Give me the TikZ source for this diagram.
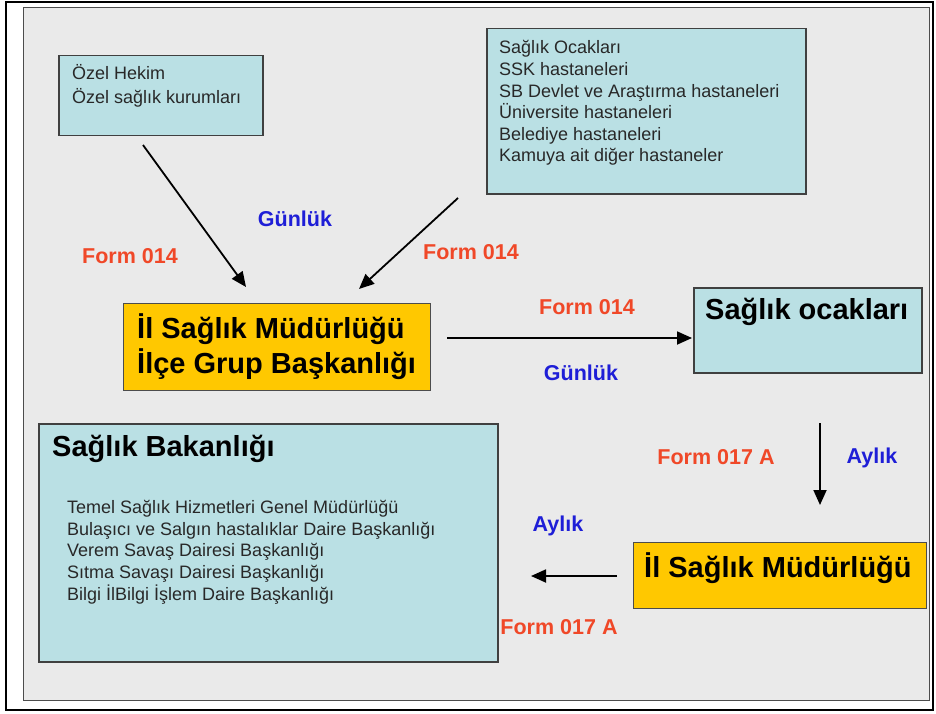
\documentclass[tikz,border=0pt]{standalone}
\usepackage{fontspec}
\setmainfont{Liberation Sans}
\usetikzlibrary{arrows.meta}
\definecolor{slidebg}{RGB}{234,234,234}
\definecolor{boxfill}{RGB}{186,224,228}
\definecolor{goldfill}{RGB}{255,200,0}
\definecolor{lblred}{RGB}{240,72,40}
\definecolor{lblblue}{RGB}{30,30,215}
\definecolor{smalltxt}{RGB}{40,40,40}
\tikzset{
  cbox/.style={draw=black!75, line width=1.5pt, fill=boxfill, anchor=north west, inner sep=0pt},
  ybox/.style={draw=black!70, line width=1.2pt, fill=goldfill, anchor=north west, inner sep=0pt},
  small/.style={font=\fontsize{18}{21.6}\selectfont, text=smalltxt, align=left, anchor=base west, inner sep=0pt},
  title/.style={font=\fontsize{29}{35}\selectfont\bfseries, text=black, align=left, anchor=base west, inner sep=0pt},
  redlbl/.style={font=\fontsize{21.5}{24}\selectfont\bfseries, text=lblred, inner sep=0pt},
  bluelbl/.style={font=\fontsize{21.5}{24}\selectfont\bfseries, text=lblblue, inner sep=0pt},
  flow/.style={line width=1.8pt, -{Triangle[length=15pt,width=13pt]}}
}
\begin{document}
\begin{tikzpicture}[x=1pt,y=-1pt]
\useasboundingbox (0,0) rectangle (936,714);
\fill[white] (0,0) rectangle (936,714);
\draw[line width=2.2pt] (6,2) rectangle (933,710);
\draw[fill=slidebg, draw=black!70, line width=1pt] (23,8) rectangle (929,700);

% boxes (text nodes anchored at the baseline of their last line)
\node[cbox, minimum width=204pt, minimum height=80pt] (ozel) at (58,55) {};
\node[small, font=\fontsize{18}{24}\selectfont] (ozelt) at (72,103.5) {Özel Hekim\\Özel sağlık kurumları};

\node[cbox, minimum width=319pt, minimum height=165pt] (kamu) at (486,28) {};
\node[small] (kamut) at (499,162) {Sağlık Ocakları\\SSK hastaneleri\\SB Devlet ve Araştırma hastaneleri\\Üniversite hastaneleri\\Belediye hastaneleri\\Kamuya ait diğer hastaneler};

\node[ybox, minimum width=307pt, minimum height=87pt] (ilsm) at (123,303) {};
\node[title] (ilsmt) at (137,373) {İl Sağlık Müdürlüğü\\İlçe Grup Başkanlığı};

\node[cbox, minimum width=228pt, minimum height=85pt] (ocak) at (693,287) {};
\node[title] (ocakt) at (705,319) {Sağlık ocakları};

\node[cbox, minimum width=459pt, minimum height=238pt] (bak) at (38,423) {};
\node[title] (bakt) at (52,456) {Sağlık Bakanlığı};
\node[small] (bakl) at (67,600) {Temel Sağlık Hizmetleri Genel Müdürlüğü\\Bulaşıcı ve Salgın hastalıklar Daire Başkanlığı\\Verem Savaş Dairesi Başkanlığı\\Sıtma Savaşı Dairesi Başkanlığı\\Bilgi İlBilgi İşlem Daire Başkanlığı};

\node[ybox, minimum width=293pt, minimum height=66pt] (ilsm2) at (633,542) {};
\node[title] (ilsm2t) at (644,577) {İl Sağlık Müdürlüğü};

% arrows
\coordinate (a1s) at (143,145); \coordinate (a1e) at (246,287);
\coordinate (a2s) at (458,198); \coordinate (a2e) at (359,289);
\coordinate (a3s) at (447,338); \coordinate (a3e) at (692,338);
\coordinate (a4s) at (820,423); \coordinate (a4e) at (820,505);
\coordinate (a5s) at (617,576); \coordinate (a5e) at (531,576);
\draw[flow] (a1s) -- (a1e);
\draw[flow] (a2s) -- (a2e);
\draw[flow] (a3s) -- (a3e);
\draw[flow] (a4s) -- (a4e);
\draw[flow] (a5s) -- (a5e);

% labels
\node[bluelbl] (g1) at (295,219) {Günlük};
\node[redlbl] (f1) at (130,256) {Form 014};
\node[redlbl] (f2) at (471,252) {Form 014};
\node[redlbl] (f3) at (587,307) {Form 014};
\node[bluelbl] (g2) at (581,373) {Günlük};
\node[redlbl] (f4) at (716,457) {Form 017 A};
\node[bluelbl] (ay1) at (872,458) {Aylık};
\node[bluelbl] (ay2) at (558,526) {Aylık};
\node[redlbl] (f5) at (559,627) {Form 017 A};
\end{tikzpicture}
\end{document}
